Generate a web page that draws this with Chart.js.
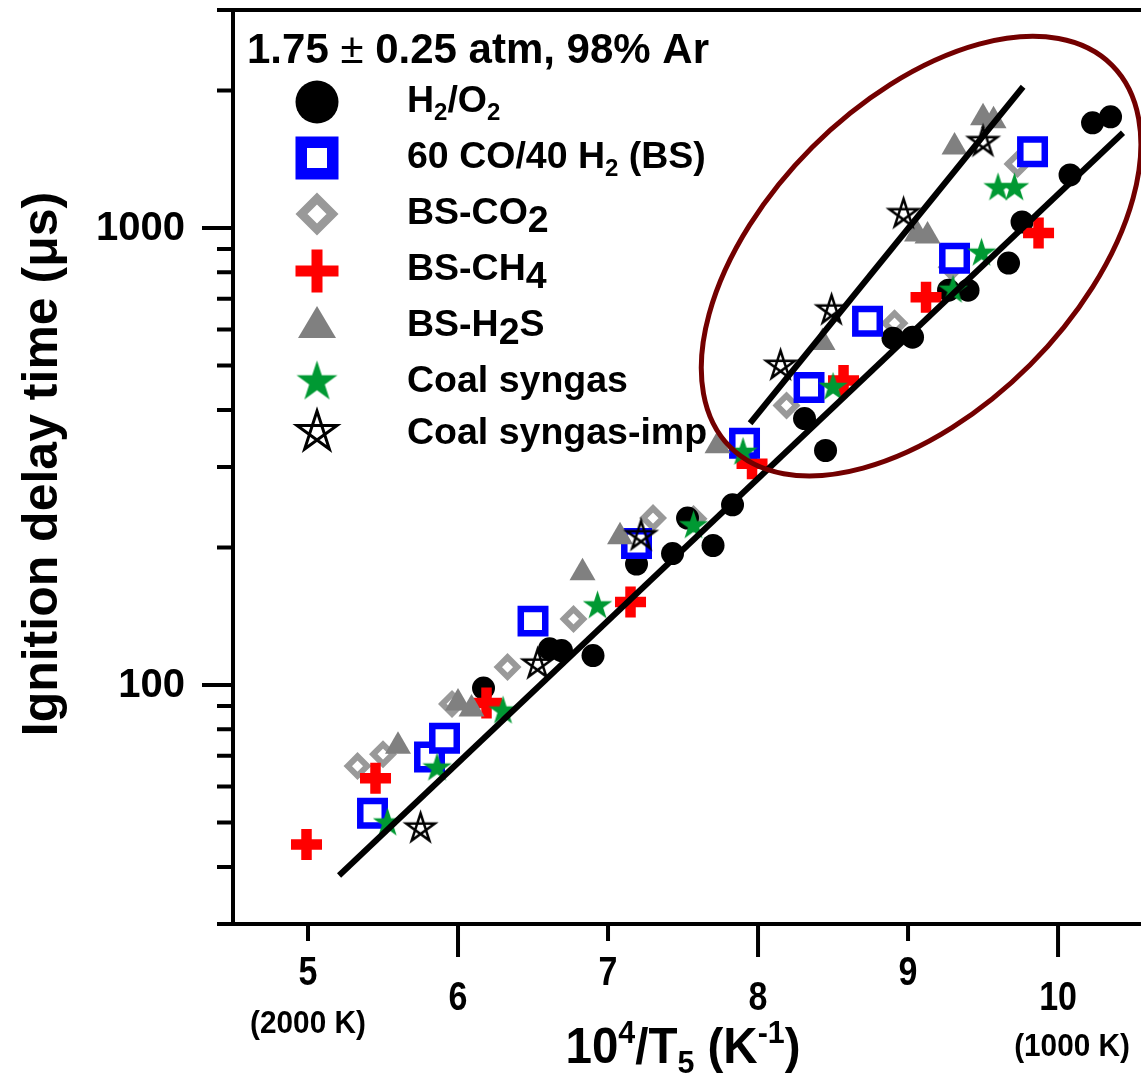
<!DOCTYPE html>
<html>
<head>
<meta charset="utf-8">
<script src="https://cdn.jsdelivr.net/npm/chart.js@4.4.1/dist/chart.umd.min.js"></script>
<style>
  html, body { margin: 0; padding: 0; background: #fff; }
</style>
</head>
<body>
<canvas id="chart" width="1141" height="1074"></canvas>
<script>
// DATA (10^4/T5 in 1/K, ignition delay in microseconds)
const h2o2X = [6.17, 6.61, 6.69, 6.90, 7.19, 7.43, 7.53, 7.70, 7.83, 8.31, 8.45, 8.90, 9.03, 9.27, 9.40, 9.67, 9.76, 10.08, 10.23, 10.35];
const h2o2Y = [98.5, 120, 119, 116, 184, 194, 232, 202, 248, 383, 326, 574, 577, 731, 731, 838, 1031, 1307, 1699, 1751];

const coX = [5.43, 5.81, 5.91, 6.50, 7.19, 7.91, 8.34, 8.73, 9.31, 9.83];
const coY = [52.4, 69.6, 76.5, 138, 204, 338, 448, 625, 859, 1468];

const co2X = [5.33, 5.50, 5.96, 6.33, 6.77, 7.30, 7.57, 8.19, 8.91, 9.29, 9.73];
const co2Y = [66.5, 70.6, 90.9, 109.5, 139.5, 232, 231, 409, 619, 821, 1381];

const ch4X = [4.99, 5.45, 6.19, 7.15, 7.96, 8.57, 9.12, 9.87];
const ch4Y = [44.8, 62.5, 91.3, 152, 305, 464, 706, 975];

const h2sX = [5.60, 6.00, 6.09, 6.83, 7.08, 7.73, 8.43, 9.06, 9.13, 9.31, 9.50, 9.57];
const h2sY = [73.5, 91.3, 88.6, 176, 211, 334, 562, 970, 961, 1505, 1743, 1717];

const coalX = [5.53, 5.86, 6.30, 6.93, 7.57, 7.90, 8.50, 9.30, 9.49, 9.60, 9.71];
const coalY = [49.9, 65.8, 87.7, 149, 223, 323, 448, 731, 881, 1224, 1224];

const impX = [5.75, 6.53, 7.22, 8.15, 8.49, 8.97, 9.50];
const impY = [48.6, 111, 212, 500, 661, 1074, 1544];

// fitted lines (end points)
const fitAllX = [5.207, 10.433];
const fitAllY = [38.3, 1616];
const fitImpX = [7.947, 9.767];
const fitImpY = [374, 2038];

// axis ticks
const xTicks = [5, 6, 7, 8, 9, 10];
const xTickNotes = { 5: "(2000 K)", 10: "(1000 K)" };
const yMajorTicks = [100, 1000];
const yMinorTicks = [30, 40, 50, 60, 70, 80, 90, 200, 300, 400, 500, 600, 700, 800, 900, 2000, 3000];

// circled region (centre in data units)
const ringX = 9.087;
const ringY = 868;

const FONT = '"Liberation Sans", Arial, sans-serif';

function pts(xs, ys) {
    return xs.map((x, i) => ({ x: x, y: ys[i] }));
}

// STAR MARKERS
function makeStar(R, fill, stroke, lw) {
    const size = Math.ceil(2 * R + 2 * lw + 4);
    const c = document.createElement("canvas");
    c.width = size;
    c.height = size;
    const g = c.getContext("2d");
    const cx = size / 2, cy = size / 2;
    if (fill) {
        const r = R * 0.382;
        g.beginPath();
        for (let i = 0; i < 10; i++) {
            const a = -Math.PI / 2 + i * Math.PI / 5;
            const rr = i % 2 === 0 ? R : r;
            const px = cx + rr * Math.cos(a), py = cy + rr * Math.sin(a);
            if (i === 0) g.moveTo(px, py); else g.lineTo(px, py);
        }
        g.closePath();
        g.fillStyle = fill;
        g.fill();
    } else {
        // pentagram outline
        g.beginPath();
        for (let i = 0; i <= 5; i++) {
            const a = -Math.PI / 2 + (i * 2 % 5) * 2 * Math.PI / 5;
            const px = cx + R * Math.cos(a), py = cy + R * Math.sin(a);
            if (i === 0) g.moveTo(px, py); else g.lineTo(px, py);
        }
        g.closePath();
        g.lineWidth = lw;
        g.lineJoin = "miter";
        g.strokeStyle = stroke;
        g.stroke();
    }
    return c;
}

const greenStar = makeStar(15.5, "#009933", null, 0);
const openStar = makeStar(15, null, "#000", 2.5);
const greenStarBig = makeStar(21.5, "#009933", null, 0);
const openStarBig = makeStar(21, null, "#000", 3);

// LEGEND MARKERS
function legendMarker(ctx, kind, x, y) {
    ctx.save();
    if (kind === "circle") {
        ctx.beginPath();
        ctx.arc(x, y, 21.5, 0, Math.PI * 2);
        ctx.fillStyle = "#000";
        ctx.fill();
    } else if (kind === "square") {
        ctx.fillStyle = "#fff";
        ctx.fillRect(x - 15.75, y - 15.75, 31.5, 31.5);
        ctx.lineWidth = 11.5;
        ctx.strokeStyle = "#0000ff";
        ctx.strokeRect(x - 15.75, y - 15.75, 31.5, 31.5);
    } else if (kind === "diamond") {
        ctx.beginPath();
        ctx.moveTo(x, y - 15.5);
        ctx.lineTo(x + 15.5, y);
        ctx.lineTo(x, y + 15.5);
        ctx.lineTo(x - 15.5, y);
        ctx.closePath();
        ctx.fillStyle = "#fff";
        ctx.fill();
        ctx.lineWidth = 8.5;
        ctx.strokeStyle = "#999999";
        ctx.stroke();
    } else if (kind === "cross") {
        ctx.fillStyle = "#ff0000";
        ctx.fillRect(x - 21.5, y - 5.5, 43, 11);
        ctx.fillRect(x - 5.5, y - 21.5, 11, 43);
    } else if (kind === "triangle") {
        ctx.beginPath();
        ctx.moveTo(x, y - 16);
        ctx.lineTo(x + 19, y + 16);
        ctx.lineTo(x - 19, y + 16);
        ctx.closePath();
        ctx.fillStyle = "#808080";
        ctx.fill();
    } else if (kind === "star") {
        ctx.drawImage(greenStarBig, x - greenStarBig.width / 2, y - greenStarBig.height / 2);
    } else if (kind === "openstar") {
        ctx.drawImage(openStarBig, x - openStarBig.width / 2, y - openStarBig.height / 2);
    }
    ctx.restore();
}

// draws a list of [text, font, dy] pieces one after another
function drawRich(ctx, x, y, parts) {
    parts.forEach(p => {
        ctx.font = p[1];
        ctx.fillText(p[0], x, y + (p[2] || 0));
        x += ctx.measureText(p[0]).width;
    });
    return x;
}

function richWidth(ctx, parts) {
    let w = 0;
    parts.forEach(p => {
        ctx.font = p[1];
        w += ctx.measureText(p[0]).width;
    });
    return w;
}

const B = sz => "bold " + sz + "px " + FONT;
const N = sz => sz + "px " + FONT;

const legendRows = [
    { kind: "circle", my: 102, base: 112, parts: [["H", B(37.5)], ["2", B(24), 8], ["/O", B(37.5)], ["2", B(24), 8]] },
    { kind: "square", my: 158, base: 168, parts: [["60 CO/40 H", B(37.5)], ["2", B(24), 8], [" (BS)", B(37.5)]] },
    { kind: "diamond", my: 214, base: 224, parts: [["BS-CO", B(37.5)], ["2", B(37.5), 8]] },
    { kind: "cross", my: 271, base: 280, parts: [["BS-CH", B(37.5)], ["4", B(37.5), 8]] },
    { kind: "triangle", my: 322, base: 336, parts: [["BS-H", B(37.5)], ["2", B(37.5), 8], ["S", B(37.5)]] },
    { kind: "star", my: 382, base: 392, parts: [["Coal syngas", B(37.5)]] },
    { kind: "openstar", my: 432, base: 444, parts: [["Coal syngas-imp", B(37.5)]] }
];

const decor = {
    id: "decor",
    afterDatasetsDraw(chart) {
        // ellipse around low temperature points
        const ctx = chart.ctx;
        const cx = chart.scales.x.getPixelForValue(ringX);
        const cy = chart.scales.y.getPixelForValue(ringY);
        ctx.save();
        ctx.beginPath();
        ctx.ellipse(cx, cy, 270, 154, -Math.PI / 4, 0, Math.PI * 2);
        ctx.lineWidth = 5;
        ctx.strokeStyle = "#730000";
        ctx.stroke();
        ctx.restore();
    },
    afterDraw(chart) {
        const ctx = chart.ctx;
        const a = chart.chartArea;
        const xs = chart.scales.x, ys = chart.scales.y;
        ctx.save();
        ctx.strokeStyle = "#000";
        ctx.fillStyle = "#000";
        ctx.lineWidth = 4;
        ctx.lineCap = "butt";

        // frame
        ctx.beginPath();
        ctx.moveTo(a.left, a.top);
        ctx.lineTo(a.right, a.top);
        ctx.moveTo(a.left, a.top - 2);
        ctx.lineTo(a.left, a.bottom + 2);
        ctx.moveTo(a.left - 2, a.bottom);
        ctx.lineTo(a.right, a.bottom);
        ctx.stroke();

        // y ticks
        ctx.beginPath();
        yMajorTicks.forEach(v => {
            const py = ys.getPixelForValue(v);
            ctx.moveTo(a.left - 31, py);
            ctx.lineTo(a.left, py);
        });
        yMinorTicks.forEach(v => {
            const py = ys.getPixelForValue(v);
            ctx.moveTo(a.left - 16, py);
            ctx.lineTo(a.left, py);
        });
        // x ticks, long on even values
        xTicks.forEach(v => {
            const px = xs.getPixelForValue(v);
            ctx.moveTo(px, a.bottom);
            ctx.lineTo(px, a.bottom + (v % 2 === 0 ? 33 : 17));
        });
        ctx.stroke();

        // y tick labels
        ctx.font = B(40);
        ctx.textAlign = "right";
        ctx.textBaseline = "middle";
        yMajorTicks.forEach(v => {
            ctx.fillText(String(v), a.left - 48, ys.getPixelForValue(v) + 1);
        });

        // x tick labels (narrow bold), staggered
        ctx.textBaseline = "alphabetic";
        ctx.textAlign = "center";
        xTicks.forEach(v => {
            const px = xs.getPixelForValue(v);
            const base = v % 2 === 0 ? 1010 : 985;
            ctx.save();
            ctx.translate(px, base);
            ctx.scale(0.85, 1);
            ctx.font = B(40);
            ctx.fillText(String(v), 0, 0);
            ctx.restore();
            if (xTickNotes[v]) {
                ctx.save();
                ctx.translate(v === 5 ? px : px + 14, v === 5 ? 1033 : 1056);
                ctx.scale(0.93, 1);
                ctx.font = B(32);
                ctx.fillText(xTickNotes[v], 0, 0);
                ctx.restore();
            }
        });

        // x title
        const xt = [["10", B(50)], ["4", B(32), -20], ["/T", B(50)], ["5", B(32), 10], [" (K", B(50)], ["-1", B(32), -20], [")", B(50)]];
        ctx.save();
        ctx.translate(683, 1063);
        ctx.scale(0.95, 1);
        ctx.textAlign = "left";
        const w = richWidth(ctx, xt);
        drawRich(ctx, -w / 2, 0, xt);
        ctx.restore();

        // y title
        ctx.save();
        ctx.translate(57, 464);
        ctx.rotate(-Math.PI / 2);
        ctx.textAlign = "center";
        ctx.font = B(50);
        ctx.fillText("Ignition delay time (\u03bcs)", 0, 0);
        ctx.restore();

        // legend title
        ctx.textAlign = "left";
        drawRich(ctx, 247, 63, [["1.75 ", B(42)], ["\u00b1", N(42)], [" 0.25 atm, 98% Ar", B(42)]]);

        // legend entries
        legendRows.forEach(r => {
            legendMarker(ctx, r.kind, 317, r.my);
            drawRich(ctx, 407, r.base, r.parts);
        });
        ctx.restore();
    }
};

new Chart(document.getElementById("chart").getContext("2d"), {
    type: "scatter",
    data: {
        datasets: [
            { label: "fit all", data: pts(fitAllX, fitAllY), showLine: true, pointRadius: 0, borderColor: "#000", borderWidth: 6, order: 0 },
            { label: "fit imp", data: pts(fitImpX, fitImpY), showLine: true, pointRadius: 0, borderColor: "#000", borderWidth: 6, order: 0 },
            { label: "Coal syngas-imp", data: pts(impX, impY), pointStyle: openStar, order: 1 },
            { label: "Coal syngas", data: pts(coalX, coalY), pointStyle: greenStar, order: 2 },
            { label: "BS-H2S", data: pts(h2sX, h2sY), pointStyle: "triangle", pointRadius: 15, backgroundColor: "#808080", borderWidth: 0, order: 3 },
            { label: "60 CO/40 H2 (BS)", data: pts(coX, coY), pointStyle: "rect", pointRadius: 17.3, backgroundColor: "#fff", borderColor: "#0000ff", borderWidth: 6.5, order: 4 },
            { label: "BS-CH4", data: pts(ch4X, ch4Y), pointStyle: "cross", pointRadius: 15.5, borderColor: "#ff0000", borderWidth: 10.5, order: 5 },
            { label: "H2/O2", data: pts(h2o2X, h2o2Y), pointStyle: "circle", pointRadius: 11.5, backgroundColor: "#000", borderWidth: 0, order: 6 },
            { label: "BS-CO2", data: pts(co2X, co2Y), pointStyle: "rectRot", pointRadius: 9.75, backgroundColor: "#fff", borderColor: "#999999", borderWidth: 6, order: 7 }
        ]
    },
    options: {
        responsive: false,
        animation: false,
        devicePixelRatio: 1,
        layout: { autoPadding: false, padding: { left: 233, top: 10, right: 0, bottom: 150 } },
        plugins: {
            legend: { display: false },
            tooltip: { enabled: false }
        },
        scales: {
            x: { type: "linear", min: 4.5, max: 10.553, display: false },
            y: { type: "logarithmic", min: 30, max: 3000, display: false }
        }
    },
    plugins: [decor]
});
</script>
</body>
</html>
